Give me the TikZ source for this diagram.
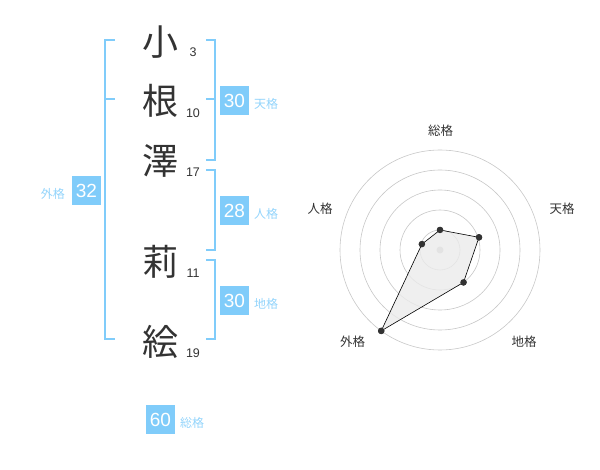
\documentclass[tikz,border=0pt]{standalone}
\usepackage{fontspec}
\setmainfont{Liberation Sans}
\newfontfamily\jpfont{Noto Sans CJK JP}
\definecolor{kakublue}{RGB}{128,204,250}
\definecolor{inkgray}{RGB}{51,51,51}
\newcommand{\fsize}[1]{\fontsize{#1}{#1}\selectfont}

\begin{document}
\begin{tikzpicture}[x=1pt,y=-1pt]
  \tikzset{
    kanji/.style={font=\jpfont\fsize{36}, text=inkgray, inner sep=0pt},
    strokes/.style={font=\fsize{12.5}, text=inkgray, inner sep=0pt, anchor=base},
    score/.style={fill=kakublue, text=white, minimum size=29pt, inner sep=0pt, font=\fsize{19}},
    kaku/.style={text=kakublue!85, font=\jpfont\fsize{12}, inner sep=0pt},
    bracket/.style={draw=kakublue, line width=2pt},
    ring/.style={draw=black!22, line width=0.6pt},
    axislabel/.style={font=\jpfont\fsize{12.5}, text=inkgray, inner sep=0pt},
    dot/.style={circle, fill=inkgray, inner sep=0pt, minimum size=6.5pt}
  }
  \useasboundingbox (0,0) rectangle (600,470);
  % name
  \node[kanji] (ko)  at (160,42)  {小};
  \node[kanji] (ne)  at (160,101) {根};
  \node[kanji] (sa)  at (160,161) {澤};
  \node[kanji] (ri)  at (160,262) {莉};
  \node[kanji] (e)   at (160,342) {絵};
  \node[strokes] (ko-n) at (193,57)  {3};
  \node[strokes] (ne-n) at (193,117.5) {10};
  \node[strokes] (sa-n) at (193,177) {17};
  \node[strokes] (ri-n) at (193,277.5) {11};
  \node[strokes] (e-n)  at (193,357.5) {19};
  % brackets
  \draw[bracket] (115,40) -- (105,40) -- (105,339) -- (115,339);
  \draw[bracket] (105,99) -- (115,99);
  \draw[bracket] (206,40) -- (215,40) -- (215,160) -- (206,160);
  \draw[bracket] (206,99) -- (215,99);
  \draw[bracket] (206,170) -- (215,170) -- (215,250) -- (206,250);
  \draw[bracket] (206,260) -- (215,260) -- (215,339) -- (206,339);
  % scores
  \node[score] (ten)   at (234.5,100.5) {30};
  \node[kaku, anchor=west] (ten-l) at (254,104) {天格};
  \node[score] (jin)   at (234.5,210.5) {28};
  \node[kaku, anchor=west] (jin-l) at (254,214) {人格};
  \node[score] (chi)   at (234.5,300.5) {30};
  \node[kaku, anchor=west] (chi-l) at (254,304) {地格};
  \node[score] (gai)   at (86.5,190.5) {32};
  \node[kaku, anchor=east] (gai-l) at (65,194) {外格};
  \node[score] (sou)   at (160.5,419.5) {60};
  \node[kaku, anchor=west] (sou-l) at (180,423) {総格};
  % radar
  \begin{scope}[shift={(440,250)}, y=1pt]
    \foreach \r in {20,40,60,80,100}
      \draw[ring] (0,0) circle[radius=\r];
    \fill[black!22] (0,0) circle[radius=3.5];
    \node[dot] (p-sou) at (90:20) {};
    \node[dot] (p-ten) at (18:41) {};
    \node[dot] (p-chi) at (-54:40) {};
    \node[dot] (p-gai) at (-126:100) {};
    \node[dot] (p-jin) at (162:19) {};
    \draw[fill=black!8, fill opacity=0.8, line width=0.6pt] (p-sou.center) -- (p-ten.center) -- (p-chi.center)
      -- (p-gai.center) -- (p-jin.center) -- cycle;
    \foreach \p in {sou,ten,chi,gai,jin}
      \fill[inkgray] (p-\p) circle[radius=3.2];
    \node[axislabel] (l-sou) at (0.7,119.3) {総格};
    \node[axislabel] (l-ten) at (122,41) {天格};
    \node[axislabel] (l-jin) at (-120,41) {人格};
    \node[axislabel] (l-gai) at (-87.3,-92) {外格};
    \node[axislabel] (l-chi) at (84,-92) {地格};
  \end{scope}
\end{tikzpicture}
\end{document}
